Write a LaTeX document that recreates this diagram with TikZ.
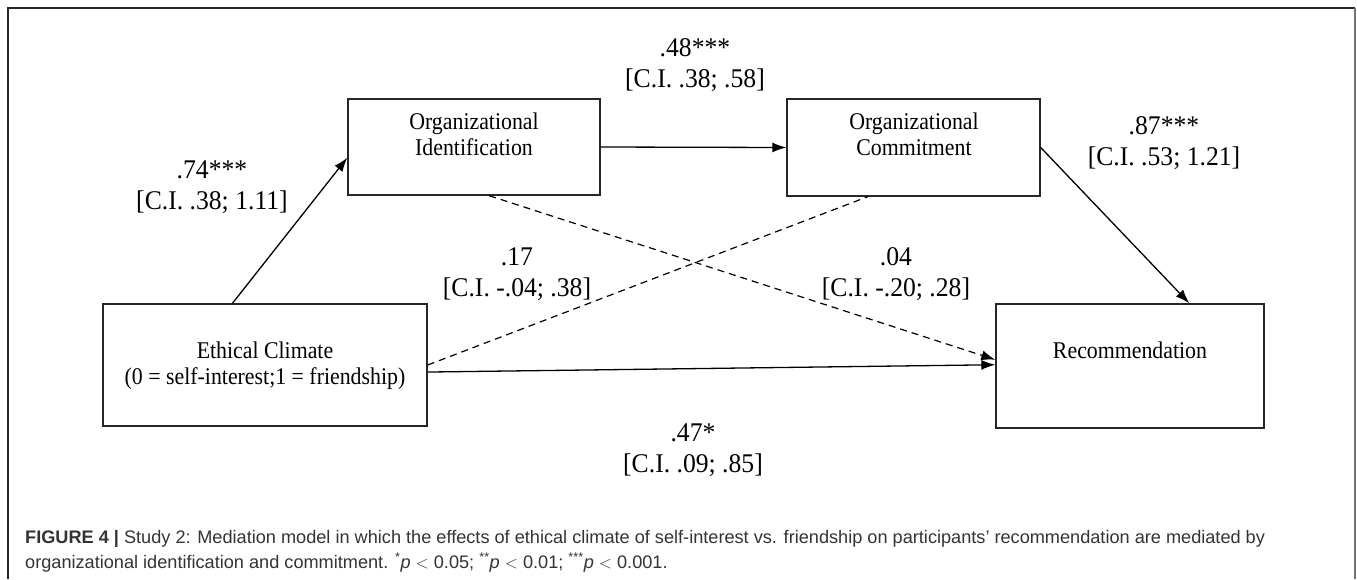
\documentclass[tikz,border=0pt]{standalone}
\usepackage{fontspec}
\setmainfont{Liberation Serif}
\setsansfont{Liberation Sans}
\usetikzlibrary{arrows.meta,calc}
\newcommand{\bt}[1]{\scalebox{0.91}[1]{\begin{tabular}{@{}c@{}}#1\end{tabular}}}
\newcommand{\lt}[1]{\scalebox{0.95}[1]{\begin{tabular}{@{}c@{}}#1\end{tabular}}}
\tikzset{
  box/.style={draw=black!85, line width=1.4pt, rectangle, inner sep=0pt},
  boxtext/.style={font=\fontsize{24}{26}\selectfont, align=center, inner sep=0pt},
  lab/.style={font=\fontsize{27}{31}\selectfont, align=center, inner sep=0pt},
  arr/.style={line width=1.3pt, -{Latex[length=14pt,width=10pt]}},
  darr/.style={line width=1.2pt, dash pattern=on 7pt off 5pt},
  captext/.style={font=\sffamily\fontsize{18.15}{25}\selectfont, text=black!80, anchor=base west, inner sep=0pt}
}
\begin{document}
\begin{tikzpicture}[x=1pt,y=-1pt]
\useasboundingbox (0,0) rectangle (1357,579);
% frame
\draw[black!85, line width=1.5pt] (8,579) -- (8,8) -- (1355,8);
\draw[black!55, line width=1.8pt] (1355,8) -- (1355,579);
% boxes
\node[box, minimum width=252pt, minimum height=96pt] (oi) at (474,147) {};
\node[box, minimum width=253pt, minimum height=97pt] (oc) at (913.5,147.5) {};
\node[box, minimum width=324pt, minimum height=122pt] (ec) at (265,365) {};
\node[box, minimum width=268pt, minimum height=124pt] (rec) at (1130,366) {};
% box texts
\node[boxtext] (oit) at (474,137) {\bt{Organizational\\Identification}};
\node[boxtext] (oct) at (914,137) {\bt{Organizational\\Commitment}};
\node[boxtext] (ect) at (265,366) {\bt{Ethical Climate\\(0 = self-interest;1 = friendship)}};
\node[boxtext] (rect) at (1130,353) {\bt{Recommendation}};
% connectors
\draw[arr] ($(ec.north west)!0.40!(ec.north east)$) -- ($(oi.north west)!0.61!(oi.south west)$);
\draw[arr] (oi.east) -- (oc.west);
\draw[arr] (oc.east) -- ($(rec.north west)!0.72!(rec.north east)$);
\draw[arr] ($(ec.north east)!0.557!(ec.south east)$) -- ($(rec.north west)!0.49!(rec.south west)$);
\draw[darr] (ec.east) -- ($(oc.south west)!0.32!(oc.south east)$);
\draw[darr, -{Latex[length=14pt,width=10pt]}] ($(oi.south west)!0.56!(oi.south east)$) -- ($(rec.north west)!0.45!(rec.south west)$);
% labels
\node[lab] (l1) at (212,188) {\lt{.74***\\{[C.I. .38; 1.11]}}};
\node[lab] (l2) at (695,66) {\lt{.48***\\{[C.I. .38; .58]}}};
\node[lab] (l3) at (1164,144) {\lt{.87***\\{[C.I. .53; 1.21]}}};
\node[lab] (l4) at (517,275) {\lt{.17\\{[C.I. -.04; .38]}}};
\node[lab] (l5) at (896,275) {\lt{.04\\{[C.I. -.20; .28]}}};
\node[lab] (l6) at (693,451) {\lt{.47*\\{[C.I. .09; .85]}}};
% caption
\node[captext] (c1) at (25,543) {\textbf{FIGURE 4} \textbf{|} Study 2: Mediation model in which the effects of ethical climate of self-interest vs. friendship on participants’ recommendation are mediated by};
\node[captext] (c2) at (25,568) {organizational identification and commitment. \textsuperscript{*}\textit{p} $<$ 0.05; \textsuperscript{**}\textit{p} $<$ 0.01; \textsuperscript{***}\textit{p} $<$ 0.001.};
\end{tikzpicture}
\end{document}
